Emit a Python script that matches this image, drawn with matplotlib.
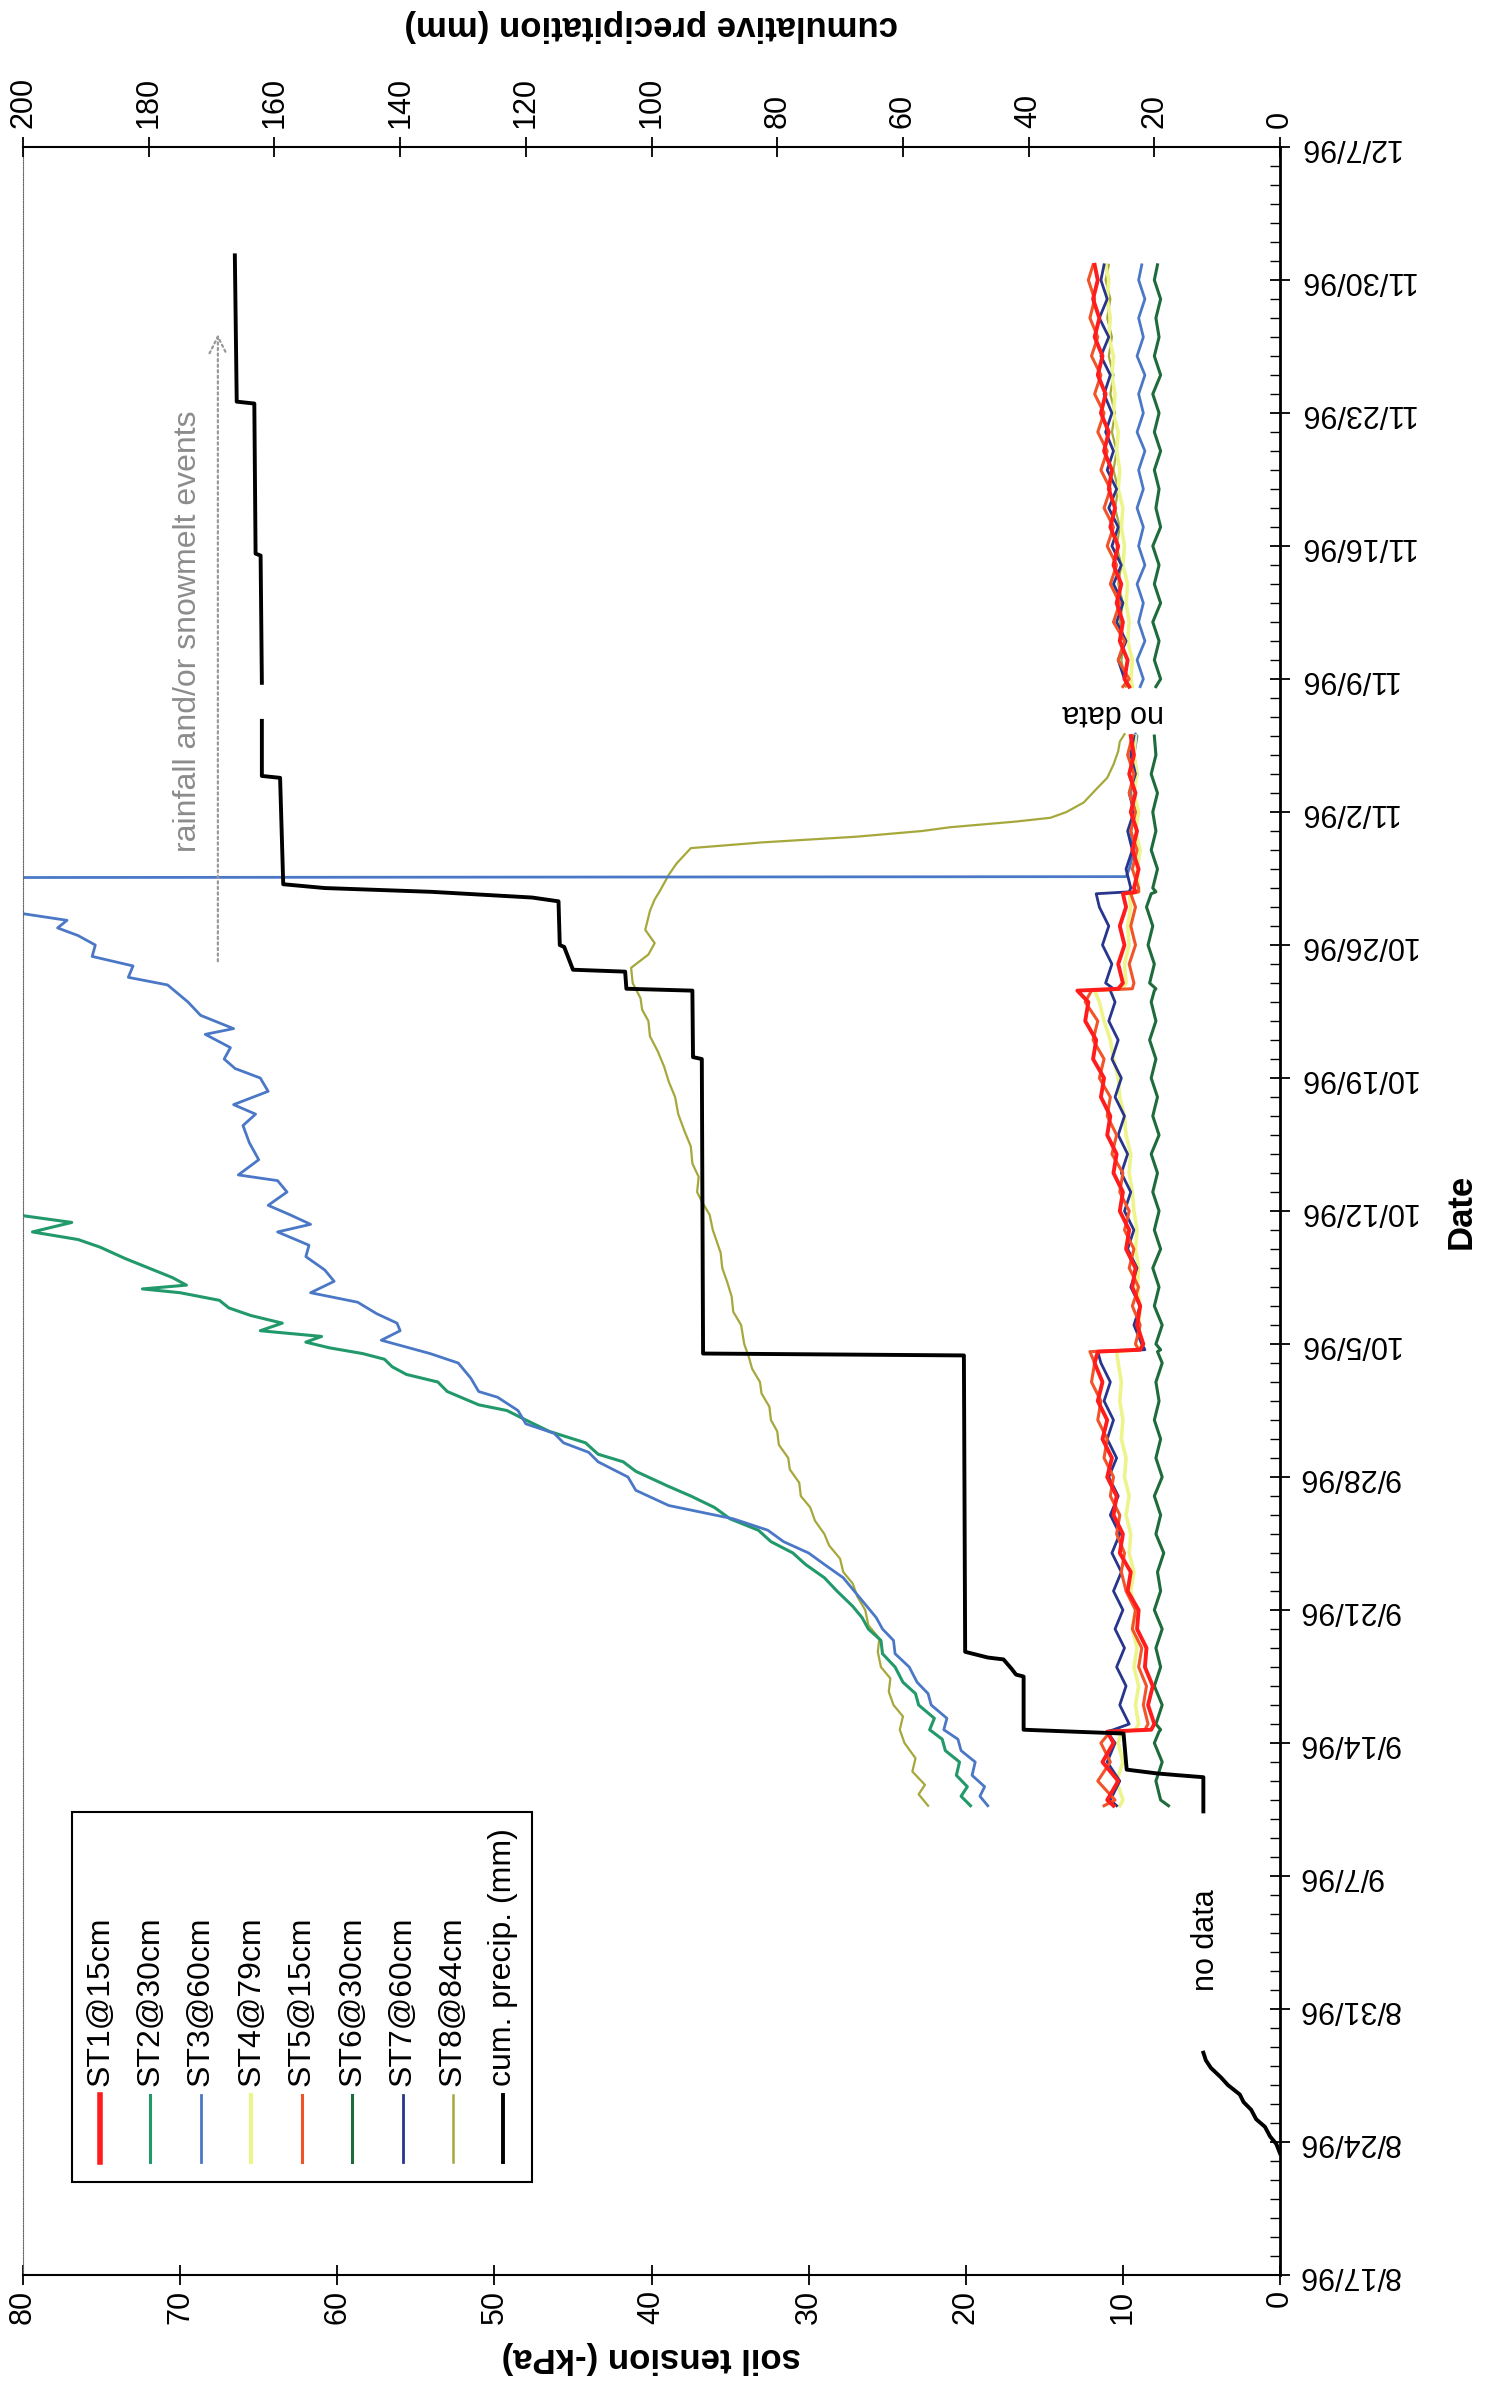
import numpy as np
import pandas as pd
import matplotlib
matplotlib.use('Agg')
import matplotlib.pyplot as plt
import matplotlib.dates as mdates
from matplotlib.patches import Rectangle
from matplotlib.lines import Line2D

plt.rcParams['font.family'] = ['Liberation Sans', 'DejaVu Sans']

nan = np.nan
start = pd.Timestamp('1996-08-17')

# tick labels
date_labels = ['8/17/96', '8/24/96', '8/31/96', '9/7/96', '9/14/96', '9/21/96', '9/28/96',
               '10/5/96', '10/12/96', '10/19/96', '10/26/96', '11/2/96', '11/9/96',
               '11/16/96', '11/23/96', '11/30/96', '12/7/96']
tension_ticks = [0, 10, 20, 30, 40, 50, 60, 70, 80]
precip_ticks = [0, 20, 40, 60, 80, 100, 120, 140, 160, 180, 200]

# all times are days after 8/17/96
# shared sampling of the shallow sensors
low_days = [24.7, 25, 26, 27, 28, 28.6, 28.7,
            29, 30, 31, 32, 33, 34, 35, 36, 37, 38, 39, 40, 41, 42, 43, 44, 45, 46, 47, 48,
            48.6, 48.7,
            49, 50, 51, 52, 53, 54, 55, 56, 57, 58, 59, 60, 61, 62, 63, 64, 65, 66, 67,
            67.6, 67.7,
            68, 69, 70, 71, 72,
            72.7, 72.8,
            73, 74, 75, 76, 77, 78, 79, 80, 81,
            82.4, 83.6,
            84, 85, 86, 87, 88, 89, 90, 91, 92, 93, 94, 95, 96, 97, 98, 99, 100, 101, 102, 103, 104, 105,
            105.8]

st1 = [10.6, 11.0, 10.3, 11.3, 10.6, 11.0, 8.2,
       8.0, 8.4, 8.1, 8.6, 8.5, 9.1, 9.0, 9.7, 9.5, 10.2, 10.0, 10.6, 10.4, 11.0, 10.7, 11.3, 11.0, 11.6, 11.3, 11.8,
       11.6, 8.9,
       8.7, 9.1, 8.9, 9.4, 9.2, 9.8, 9.6, 10.2, 10.0, 10.6, 10.4, 11.0, 10.8, 11.4, 11.2, 11.9, 11.7, 12.4, 12.2,
       12.9, 10.3,
       10.0, 10.3, 9.9, 10.2, 9.8,
       10.0, 9.2,
       9.3, 9.0, 9.4, 9.1, 9.5, 9.2, 9.6, 9.3, 9.5,
       nan, 9.6,
       9.9, 9.7, 10.2, 10.0, 10.4, 10.1, 10.6, 10.3, 10.8, 10.5, 10.9, 10.7, 11.2, 10.9, 11.4, 11.1, 11.6, 11.3, 11.8, 11.5, 11.9, 11.6,
       11.8]

st5 = [11.2, 10.5, 11.6, 10.8, 11.4, 10.8, 8.6,
       8.4, 8.7, 8.5, 9.0, 8.8, 9.4, 9.2, 9.8, 10.1, 9.9, 10.4, 10.2, 10.8, 10.6, 11.2, 11.0, 11.6, 11.4, 12.0, 11.8,
       12.1, 9.0,
       9.2, 8.9, 9.4, 9.0, 9.6, 9.3, 9.9, 9.6, 10.2, 10.0, 10.7, 10.4, 11.0, 10.8, 11.5, 11.2, 11.9, 11.6, 12.4,
       12.0, 9.4,
       9.3, 9.6, 9.2, 9.5, 9.2,
       9.5, 9.0,
       9.0, 9.4, 9.1, 9.5, 9.2, 9.6, 9.3, 9.7, 9.4,
       nan, 10.0,
       9.6, 10.3, 9.9, 10.6, 10.2, 10.8, 10.4, 11.0, 10.6, 11.2, 10.8, 11.4, 11.0, 11.6, 11.2, 11.8, 11.4, 12.0, 11.6, 12.1, 11.8, 12.2,
       11.9]

st4 = [10.2, 10.0, 10.4, 10.0, 10.3, 10.1, 9.2,
       9.0, 9.2, 9.0, 9.3, 9.1, 9.4, 9.2, 9.5, 9.3, 9.6, 9.5, 9.8, 9.6, 9.9, 9.8, 10.1, 10.0, 10.2, 10.1, 10.3,
       10.4, 9.0,
       8.8, 9.0, 8.9, 9.1, 9.0, 9.2, 9.1, 9.3, 9.4, 9.6, 9.5, 9.8, 9.9, 10.2, 10.3, 10.6, 10.8, 11.2, 11.5,
       11.8, 10.0,
       9.8, 9.9, 9.6, 9.7, 9.5,
       9.6, 9.0,
       9.0, 9.1, 8.9, 9.2, 9.0, 9.3, 9.1, 9.3, 9.2,
       nan, 9.4,
       9.5, 9.4, 9.7, 9.6, 9.8, 9.7, 10.0, 9.9, 10.1, 10.0, 10.3, 10.2, 10.4, 10.3, 10.6, 10.5, 10.7, 10.6, 10.9, 10.8, 11.0, 10.9,
       11.1]

st6 = [7.1, 7.6, 7.9, 7.5, 8.0, 7.7, 7.6,
       7.9, 7.5, 8.0, 7.6, 7.9, 7.5, 8.0, 7.6, 7.8, 7.4, 7.9, 7.6, 8.0, 7.5, 7.9, 7.6, 8.0, 7.7, 7.9, 7.5,
       7.8, 7.6,
       7.9, 7.5, 8.0, 7.7, 8.1, 7.6, 8.0, 7.7, 8.1, 7.8, 8.2, 7.7, 8.1, 7.8, 8.2, 7.9, 8.3, 7.9, 8.2,
       8.0, 7.9,
       8.3, 8.0, 8.4, 8.1, 8.5,
       8.2, 7.9,
       8.1, 7.8, 8.2, 7.9, 8.1, 7.8, 8.2, 7.9, 8.0,
       nan, 7.9,
       7.6, 8.0, 7.7, 8.1, 7.6, 8.0, 7.7, 8.1, 7.6, 7.9, 7.7, 8.0, 7.6, 8.0, 7.7, 8.1, 7.6, 8.0, 7.7, 7.9, 7.6, 8.0,
       7.8]

st7 = [10.4, 10.8, 10.2, 11.0, 10.5, 11.0, 10.6,
       9.6, 10.2, 9.8, 10.4, 9.9, 10.5, 10.0, 10.6, 10.1, 10.7, 10.2, 10.8, 10.3, 10.9, 10.4, 11.0, 10.6, 11.2, 10.8, 11.4,
       11.6, 8.6,
       8.8, 9.3, 8.9, 9.5, 9.1, 9.7, 9.3, 9.9, 9.5, 10.1, 9.7, 10.3, 9.9, 10.5, 10.1, 10.7, 10.3, 10.9, 10.5,
       10.8, 10.6,
       11.1, 10.7, 11.3, 10.9, 11.5,
       11.7, 9.6,
       9.5, 9.8, 9.4, 9.7, 9.3, 9.6, 9.2, 9.5, 9.3,
       nan, 9.6,
       9.9, 10.3, 9.8, 10.4, 10.0, 10.6, 10.1, 10.7, 10.3, 10.9, 10.4, 11.0, 10.6, 11.1, 10.7, 11.2, 10.8, 11.4, 10.9, 11.5, 11.0, 11.4,
       11.2]

st2_days = [24.7, 25.2, 25.7, 26.3, 27, 27.6, 28.2, 28.7, 29.3, 30, 30.6, 31.2, 32, 32.7, 33.4, 34, 34.6,
            35.2, 36, 36.7, 37.4, 38, 38.6, 39.2, 39.8, 40.4, 41, 41.5, 42.3, 42.8, 43.2, 43.8, 44.4,
            45, 45.5, 45.8, 46.5, 47, 47.4, 47.8, 48.2, 48.5, 48.8, 49.1, 49.4, 49.7, 50.1, 50.5, 50.9,
            51.3, 51.7, 51.9, 52.1, 52.5, 52.9, 53.5, 54.1, 54.5, 54.9, 55.4, 55.8, 56.2]
st2 = [19.7, 20.3, 19.9, 20.6, 20.4, 21.3, 21.5, 22.3, 22.0, 23.0, 23.2, 24.0, 24.5, 25.3, 25.4, 26.2, 26.6,
       27.2, 28.2, 29.0, 30.2, 31.0, 32.4, 33.2, 35.0, 36.0, 37.5, 38.9, 41.0, 41.8, 43.4, 44.2, 46.5,
       48.0, 49.2, 51.0, 53.0, 53.6, 55.6, 56.5, 57.0, 58.4, 60.5, 62.0, 61.0, 64.9, 63.5, 65.5, 66.9,
       67.5, 70.0, 72.4, 69.6, 70.5, 71.7, 73.5, 75.1, 76.5, 79.4, 76.9, 80.4, 82.5]

st3_days = [24.7, 25.2, 25.7, 26.3, 27, 27.6, 28.2, 28.7, 29.3, 30, 30.6, 31.2, 32, 32.7, 33.4, 34, 34.6,
            35.2, 36, 36.7, 37.4, 38, 38.6, 39.2, 39.8, 40.5, 41.3, 42, 42.8, 43.3, 43.8, 44.3, 44.8,
            45.5, 46.2, 46.5, 47.2, 48.0, 48.5, 49.2, 49.7, 50.1, 50.6, 51.2, 51.7, 52.3, 52.9, 53.6,
            54.2, 54.9, 55.3, 55.8, 56.3, 57.0, 57.6, 57.9, 58.7, 59.6, 60.5, 61.1, 61.6, 62.3, 63.0,
            63.5, 64.0, 64.6, 65.3, 65.6, 66.3, 67.0, 67.9, 68.3, 68.9, 69.4, 70.0, 70.5, 70.9, 71.3,
            71.7, 72.3, 73.0, 73.55, 73.6, 74, 75, 76, 77, 78, 79, 80, 81, 81.1, 82.4, 83.6,
            84, 85, 86, 87, 88, 89, 90, 91, 92, 93, 94, 95, 96, 97, 98, 99, 100, 101, 102, 103, 104, 105, 105.8]
st3 = [18.6, 19.1, 18.8, 19.6, 19.4, 20.3, 20.5, 21.4, 21.2, 22.2, 22.4, 23.1, 23.6, 24.5, 24.6, 25.3, 25.7,
       26.3, 27.1, 27.8, 29.0, 30.0, 31.6, 32.6, 34.8, 38.9, 41.0, 41.5, 43.4, 44.0, 45.6, 46.2, 48.0,
       48.5, 49.8, 51.0, 51.5, 52.3, 54.1, 57.2, 56.0, 56.2, 57.5, 58.7, 61.7, 60.2, 60.8, 62.0,
       61.8, 63.8, 61.7, 63.0, 64.4, 63.2, 63.8, 66.3, 65.0, 65.6, 66.0, 65.2, 66.6, 64.4, 64.9,
       66.5, 67.2, 66.8, 68.4, 66.6, 68.7, 69.5, 70.8, 73.3, 73.0, 75.6, 75.4, 76.5, 77.8, 77.2,
       80.4, 83.0, 86.0, 86.0, 9.8, 9.6, 9.3, 9.5, 9.2, 9.4, 9.1, 9.3, 9.1, 9.2, nan, 8.9,
       8.7, 9.1, 8.6, 9.0, 8.7, 9.1, 8.6, 9.0, 8.7, 9.1, 8.7, 9.0, 8.6, 9.1, 8.7, 9.0, 8.6, 9.1, 8.7, 9.0, 8.6, 9.0, 8.8]

st8_days = [24.7, 25.3, 25.8, 26.5, 27.2, 28, 28.7, 29.4, 30, 30.7, 31.4, 32, 32.8, 33.5, 34.2, 35, 35.7,
            36.4, 37, 37.7, 38.4, 39, 39.7, 40.4, 41, 41.7, 42.4, 43, 43.7, 44.4, 45, 45.7, 46.4, 47,
            47.7, 48.3, 49, 50, 50.7, 51.5, 52.3, 53, 53.8, 55, 55.8, 56.5, 57, 57.8, 58.5, 59.4, 60.2,
            61.1, 62, 62.8, 63.6, 64.4, 65.2, 66, 66.6, 67.2, 68, 68.8, 69.5, 70.1, 70.8, 71.8, 72.4,
            72.8, 73.7, 74.3, 75.1, 75.4, 75.7, 76.0, 76.2, 76.5, 76.7, 77.0, 77.5, 78.2, 78.8, 79.5,
            80.2, 80.7, 81.1, 82.4, 83.6, 85, 86, 87, 88, 89, 90, 91, 92, 93, 94, 95, 96, 97, 98, 99,
            100, 101, 102, 103, 104, 105, 105.8]
st8 = [22.4, 23.0, 22.6, 23.4, 23.2, 23.9, 24.2, 24.0, 24.6, 24.9, 24.8, 25.4, 25.6, 25.5, 26.2, 26.4, 26.9,
       27.2, 27.8, 28.0, 28.7, 29.0, 29.6, 29.9, 30.5, 30.6, 31.2, 31.3, 31.9, 32.0, 32.4, 32.5, 33.0, 33.1,
       33.6, 33.8, 34.1, 34.3, 34.8, 34.9, 35.2, 35.5, 35.6, 36.1, 36.3, 36.8, 37.1, 37.0, 37.4, 37.5, 37.9,
       38.3, 38.5, 38.9, 39.2, 39.6, 40.1, 40.2, 40.6, 40.7, 41.2, 41.3, 40.2, 39.8, 40.4, 40.1, 39.8,
       39.5, 38.9, 38.4, 37.5, 33.0, 27.0, 22.8, 21.0, 16.8, 14.6, 13.6, 12.5, 11.7, 11.0, 10.6,
       10.3, 10.2, 9.9, nan, 9.8, 10.1, 9.9, 10.2, 10.0, 10.3, 10.1, 10.4, 10.2, 10.5, 10.3, 10.6, 10.4, 10.7, 10.5, 10.8,
       10.6, 10.9, 10.7, 11.0, 10.8, 11.1, 10.9]

precip_days = [6.4, 6.9, 7.3, 7.8, 8.2, 8.7, 9.1, 9.5, 10.0, 10.4, 10.9, 11.3, 11.7, 18.0,
               24.4, 26.2, 26.3, 26.4, 26.6, 28.5, 28.6, 28.7, 31.5, 31.6, 31.9, 32.4, 32.5, 32.8,
               48.4, 48.5, 64.0, 64.1, 67.6, 67.7, 68.6, 68.7, 69.9, 70.0, 72.3, 72.5, 72.8, 73.0,
               73.2, 78.8, 78.9, 81.8, 82.8, 83.8, 90.5, 90.6, 98.5, 98.6, 106.3]
precip = [0, 0.6, 1.6, 2.4, 3.8, 4.6, 5.8, 6.4, 8.3, 9.4, 11.0, 11.8, 12.2, nan,
          12.2, 12.2, 16.0, 19.6, 24.4, 24.9, 33.0, 40.8, 40.8, 42.0, 42.7, 44.0, 46.5, 50.1,
          50.3, 91.8, 92.0, 93.4, 93.5, 104.0, 104.2, 112.5, 113.9, 114.6, 114.8, 119.0, 135.0, 152.0,
          158.6, 159.1, 162.0, 162.0, nan, 162.0, 162.2, 163.0, 163.2, 166.0, 166.3]


def to_dates(d):
    return start + pd.to_timedelta(np.asarray(d, dtype=float), unit='D')


def dnum(d):
    return mdates.date2num(start + pd.Timedelta(days=d))


fig = plt.figure(figsize=(14.86, 23.95), dpi=100)
ax = fig.add_axes([0.0155, 0.0501, 0.8459, 0.8885])

# sensors, drawn with tension along x (plot is turned on its side)
ax.plot(st8, to_dates(st8_days), color='#a6a83c', lw=1.6)
ax.plot(st2, to_dates(st2_days), color='#22996a', lw=2.2)
ax.plot(st3, to_dates(st3_days), color='#4a78c6', lw=2.0)
ax.plot(st4, to_dates(low_days), color='#eef48c', lw=2.6)
ax.plot(st6, to_dates(low_days), color='#1e6b3c', lw=2.2)
ax.plot(st7, to_dates(low_days), color='#27358c', lw=2.0)
ax.plot(st5, to_dates(low_days), color='#f2542a', lw=2.2)
ax.plot(st1, to_dates(low_days), color='#ff1c1c', lw=2.8)

ax.set_xlim(80, 0)
ax.set_ylim(pd.Timestamp('1996-08-17'), pd.Timestamp('1996-12-07'))

ax2 = ax.twiny()
ax2.plot(precip, to_dates(precip_days), color='black', lw=2.8)
ax2.set_xlim(200, 0)

# axes cosmetics
ax.set_xticks(tension_ticks)
ax.set_xticklabels([str(t) for t in tension_ticks])
ax.tick_params(axis='x', labelrotation=90, labelsize=22, direction='inout', length=14, width=1.3, pad=4)
ax2.set_xticks(precip_ticks)
ax2.set_xticklabels([str(t) for t in precip_ticks])
ax2.tick_params(axis='x', labelrotation=90, labelsize=22, direction='inout', length=14, width=1.3, pad=7)

ax.set_yticks(pd.to_datetime(date_labels, format='%m/%d/%y'))
ax.set_yticklabels(date_labels)
ax.yaxis.set_minor_locator(mdates.DayLocator())
ax.yaxis.tick_right()
ax.tick_params(axis='y', which='major', labelrotation=180, labelsize=22, direction='inout',
               length=14, width=1.3, pad=6)
ax.tick_params(axis='y', which='minor', direction='in', length=7, width=1.0)
for lab in ax.get_yticklabels():
    lab.set_verticalalignment('center')

ax.set_xlabel('soil tension (-kPa)', rotation=180, fontsize=25, fontweight='bold', labelpad=12)
ax2.set_xlabel('cumulative precipitation (mm)', rotation=180, fontsize=25, fontweight='bold', labelpad=30)
ax.yaxis.set_label_position('right')
ax.set_ylabel('Date', rotation=90, fontsize=25, fontweight='bold', labelpad=20)

for s in ['left', 'right', 'bottom']:
    ax2.spines[s].set_visible(False)
ax.spines['top'].set_visible(False)
ax.spines['left'].set_linestyle((0, (1, 1.2)))
ax.spines['left'].set_color('#666666')
ax.spines['right'].set_linewidth(2.0)
ax.spines['bottom'].set_linewidth(1.5)
ax2.spines['top'].set_linewidth(1.5)

# annotations
ax.text(69.5, dnum(86.5), 'rainfall and/or snowmelt events', rotation=90, color='#8c8c8c',
        fontsize=23, ha='center', va='center')
ax.annotate('', xy=(67.6, dnum(102.3)), xytext=(67.6, dnum(69.0)),
            arrowprops=dict(arrowstyle='->', color='#9a9a9a', lw=1.6, linestyle=(0, (1, 1.5)),
                            mutation_scale=30))
ax.text(4.7, dnum(17.6), 'no data', rotation=90, fontsize=22, ha='center', va='center')
ax.text(10.6, dnum(82.2), 'no data', rotation=180, fontsize=22, ha='center', va='center')

# legend, turned with the chart
leg_names = ['ST1@15cm', 'ST2@30cm', 'ST3@60cm', 'ST4@79cm', 'ST5@15cm', 'ST6@30cm',
             'ST7@60cm', 'ST8@84cm', 'cum. precip. (mm)']
leg_colors = ['#ff1c1c', '#22996a', '#4a78c6', '#eef48c', '#f2542a', '#1e6b3c',
              '#27358c', '#a6a83c', 'black']
leg_widths = [4.0, 2.2, 2.0, 3.0, 2.2, 2.2, 2.0, 1.8, 2.8]
ax2.add_patch(Rectangle((0.039, 0.0437), 0.366, 0.174, transform=ax.transAxes,
                        fc='white', ec='black', lw=1.5, zorder=5))
for i, (name, c, w) in enumerate(zip(leg_names, leg_colors, leg_widths)):
    xx = 0.0613 + i * 0.0401
    ax2.add_line(Line2D([xx, xx], [0.053, 0.0847], transform=ax.transAxes, color=c, lw=w, zorder=6))
    ax2.text(xx, 0.089, name, rotation=90, ha='center', va='bottom', transform=ax.transAxes,
             fontsize=23, zorder=6)

fig.savefig('out.png', dpi=100)
